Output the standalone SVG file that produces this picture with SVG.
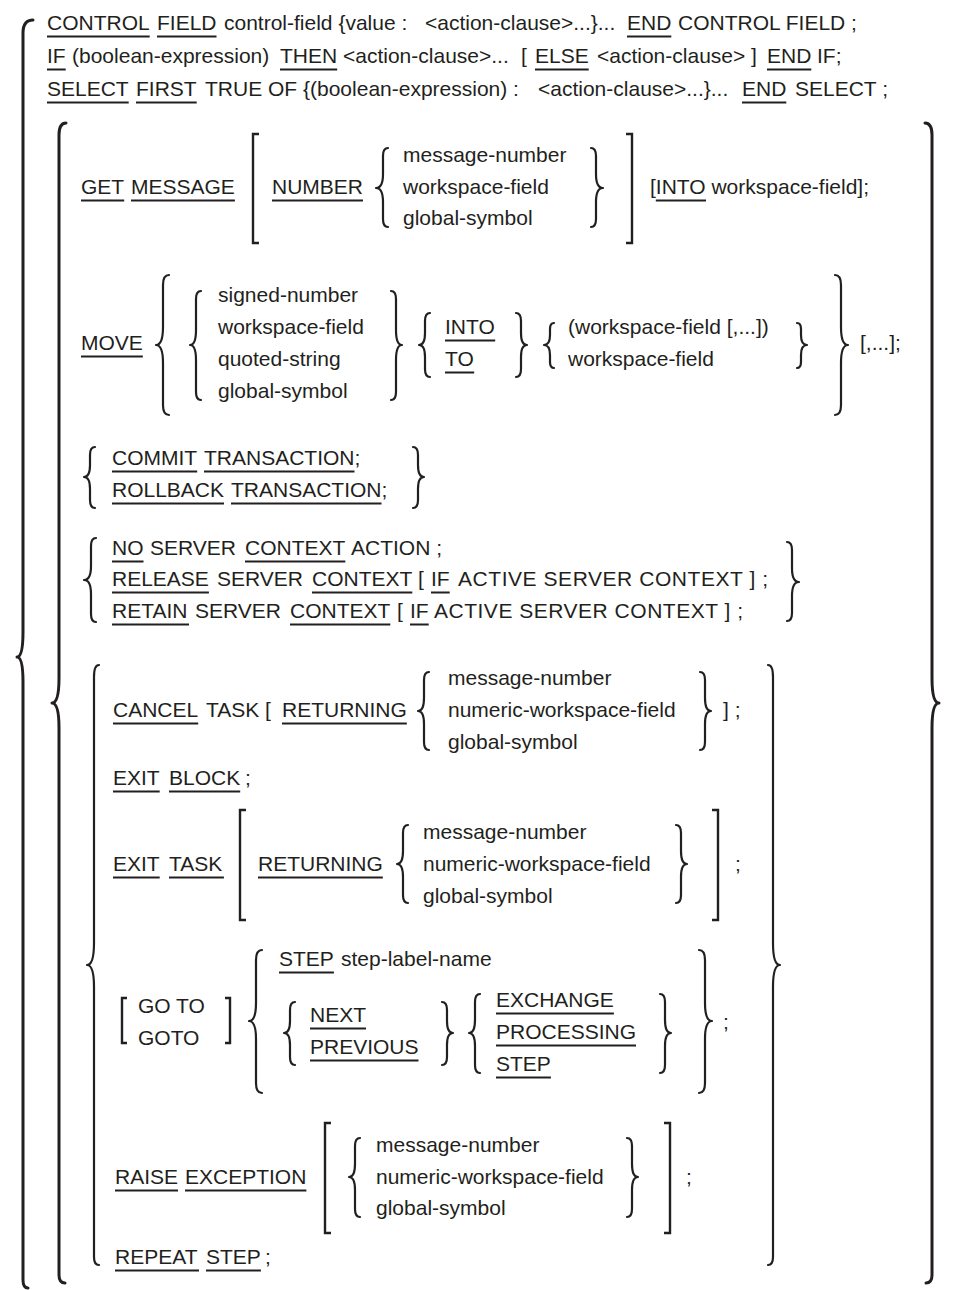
<svg xmlns="http://www.w3.org/2000/svg" width="964" height="1290" viewBox="0 0 964 1290">
<style>
.t{font-family:"Liberation Sans",Arial,Helvetica,sans-serif;font-size:21px;fill:#231f20}
.u{fill:none;stroke:#231f20;stroke-width:2}
.b{fill:none;stroke:#231f20;stroke-width:2.2;stroke-linecap:round;stroke-linejoin:round}
.bb{fill:none;stroke:#231f20;stroke-width:3;stroke-linecap:round;stroke-linejoin:round}
.k{fill:none;stroke:#231f20;stroke-width:2.4;stroke-linejoin:miter}
</style>
<rect width="964" height="1290" fill="#ffffff"/>

<g id="outer-braces">
<path class="bb" d="M33,20 Q23,20 23,33 L23,632 Q23,657 17,657 Q23,657 23,682 L23,1280 Q23,1288 28,1288"/>
<path class="bb" d="M66,123 Q59,123 59,135 L59,678 Q59,703 52,703 Q59,703 59,728 L59,1275 Q59,1283 65,1283"/>
<path class="bb" d="M925,123 Q932,123 932,135 L932,678 Q932,703 939,703 Q932,703 932,728 L932,1275 Q932,1283 926,1283"/>
</g>

<g id="header">
<text class="t"><tspan x="47" y="30">CONTROL</tspan><tspan x="157" y="30">FIELD</tspan><tspan x="224" y="30">control-field {value :</tspan><tspan x="425" y="30">&lt;action-clause&gt;...}...</tspan><tspan x="627" y="30">END</tspan><tspan x="678" y="30">CONTROL FIELD ;</tspan></text>
<text class="t"><tspan x="47" y="63">IF</tspan><tspan x="72" y="63">(boolean-expression)</tspan><tspan x="280" y="63">THEN</tspan><tspan x="343" y="63">&lt;action-clause&gt;...</tspan><tspan x="521" y="63">[</tspan><tspan x="535" y="63">ELSE</tspan><tspan x="597" y="63">&lt;action-clause&gt; ]</tspan><tspan x="767" y="63">END</tspan><tspan x="817" y="63">IF;</tspan></text>
<text class="t"><tspan x="47" y="96">SELECT</tspan><tspan x="136" y="96">FIRST</tspan><tspan x="205" y="96">TRUE OF {(boolean-expression) :</tspan><tspan x="538" y="96">&lt;action-clause&gt;...}...</tspan><tspan x="742" y="96">END</tspan><tspan x="795" y="96">SELECT ;</tspan></text>
<path class="u" d="M47,36.5H149.7M157,36.5H216.5M627,36.5H671.3M47,69.5H65.7M280,69.5H337.2M535,69.5H588.7M767,69.5H811.3M47,102.5H128.7M136,102.5H196.7M742,102.5H786.3"/>
</g>

<g id="get-message">
<text class="t"><tspan x="81" y="194">GET</tspan><tspan x="131" y="194">MESSAGE</tspan><tspan x="272" y="194">NUMBER</tspan><tspan x="650" y="194">[INTO workspace-field];</tspan></text>
<text class="t"><tspan x="403" y="162">message-number</tspan><tspan x="403" y="194">workspace-field</tspan><tspan x="403" y="225">global-symbol</tspan></text>
<path class="u" d="M81,200.5H124.2M131,200.5H234.9M272,200.5H363M655.8,200.5H706"/>
<path class="k" d="M259,134 L253,134 L253,243 L259,243"/>
<path class="k" d="M626,134 L632,134 L632,243 L626,243"/>
<path class="b" d="M388,148 Q383,148 383,156 L383,174 Q383,188 376,188 Q383,188 383,202 L383,219 Q383,227 388,227"/>
<path class="b" d="M591,148 Q596,148 596,156 L596,174 Q596,188 603,188 Q596,188 596,202 L596,219 Q596,227 591,227"/>
</g>

<g id="move">
<text class="t"><tspan x="81" y="350">MOVE</tspan><tspan x="860" y="350">[,...];</tspan></text>
<text class="t"><tspan x="218" y="302">signed-number</tspan><tspan x="218" y="334">workspace-field</tspan><tspan x="218" y="366">quoted-string</tspan><tspan x="218" y="398">global-symbol</tspan></text>
<text class="t"><tspan x="445" y="334">INTO</tspan><tspan x="445" y="366">TO</tspan></text>
<text class="t"><tspan x="568" y="334">(workspace-field [,...])</tspan><tspan x="568" y="366">workspace-field</tspan></text>
<path class="u" d="M81,356.5H142.8M445,340.5H495.2M445,372.5H474.2"/>
<path class="b" d="M169,275 Q163,275 163,285 L163,327 Q163,345 156,345 Q163,345 163,363 L163,405 Q163,415 169,415"/>
<path class="b" d="M201,291 Q196,291 196,299 L196,330 Q196,345 190,345 Q196,345 196,360 L196,392 Q196,400 201,400"/>
<path class="b" d="M391,291 Q396,291 396,299 L396,330 Q396,345 402,345 Q396,345 396,360 L396,392 Q396,400 391,400"/>
<path class="b" d="M430,313 Q425,313 425,321 L425,333 Q425,345 419,345 Q425,345 425,357 L425,369 Q425,377 430,377"/>
<path class="b" d="M516,313 Q521,313 521,321 L521,333 Q521,345 527,345 Q521,345 521,357 L521,369 Q521,377 516,377"/>
<path class="b" d="M554,323 Q550,323 550,329 L550,335 Q550,345 544,345 Q550,345 550,355 L550,362 Q550,368 554,368"/>
<path class="b" d="M797,323 Q801,323 801,329 L801,335 Q801,345 807,345 Q801,345 801,355 L801,362 Q801,368 797,368"/>
<path class="b" d="M835,275 Q841,275 841,285 L841,327 Q841,345 848,345 Q841,345 841,363 L841,405 Q841,415 835,415"/>
</g>

<g id="transaction">
<text class="t"><tspan x="112" y="465">COMMIT</tspan><tspan x="204" y="465">TRANSACTION</tspan><tspan x="354.5" y="465">;</tspan></text>
<text class="t"><tspan x="112" y="497">ROLLBACK</tspan><tspan x="231" y="497">TRANSACTION</tspan><tspan x="381.5" y="497">;</tspan></text>
<path class="u" d="M112,471.5H197.2M204,471.5H354.5M112,503.5H224M231,503.5H381.5"/>
<path class="b" d="M95,447 Q90,447 90,455 L90,465 Q90,477 84,477 Q90,477 90,489 L90,500 Q90,508 95,508"/>
<path class="b" d="M413,447 Q418,447 418,455 L418,465 Q418,477 424,477 Q418,477 418,489 L418,500 Q418,508 413,508"/>
</g>

<g id="server-context">
<text class="t"><tspan x="112" y="555">NO</tspan><tspan x="150" y="555">SERVER</tspan><tspan x="245" y="555">CONTEXT</tspan><tspan x="351" y="555">ACTION ;</tspan></text>
<text class="t"><tspan x="112" y="586">RELEASE</tspan><tspan x="217" y="586">SERVER</tspan><tspan x="312" y="586">CONTEXT</tspan><tspan x="418" y="586">[</tspan><tspan x="431" y="586">IF</tspan></text>
<text class="t" x="458" y="586" textLength="310" lengthAdjust="spacing">ACTIVE SERVER CONTEXT ] ;</text>
<text class="t"><tspan x="112" y="618">RETAIN</tspan><tspan x="195" y="618">SERVER</tspan><tspan x="290" y="618">CONTEXT</tspan><tspan x="397" y="618">[</tspan><tspan x="410" y="618">IF</tspan></text>
<text class="t" x="434" y="618" textLength="309" lengthAdjust="spacing">ACTIVE SERVER CONTEXT ] ;</text>
<path class="u" d="M112,561.5H143.5M245,561.5H345.3M112,592.5H208.9M312,592.5H412.3M431,592.5H449.7M112,624.5H189M290,624.5H390.3M410,624.5H428.7"/>
<path class="b" d="M96,538 Q91,538 91,546 L91,566 Q91,580 84,580 Q91,580 91,594 L91,614 Q91,622 96,622"/>
<path class="b" d="M787,542 Q792,542 792,550 L792,568 Q792,582 799,582 Q792,582 792,596 L792,613 Q792,621 787,621"/>
</g>

<g id="task-actions">
<path class="b" d="M99,665 Q94,665 94,677 L94,943 Q94,965 87,965 Q94,965 94,987 L94,1257 Q94,1265 99,1265"/>
<path class="b" d="M768,665 Q773,665 773,677 L773,943 Q773,965 780,965 Q773,965 773,987 L773,1257 Q773,1265 768,1265"/>

<g id="cancel-task">
<text class="t"><tspan x="113" y="717">CANCEL</tspan><tspan x="206" y="717">TASK [</tspan><tspan x="282" y="717">RETURNING</tspan><tspan x="723" y="717">] ;</tspan></text>
<text class="t"><tspan x="448" y="685">message-number</tspan><tspan x="448" y="717">numeric-workspace-field</tspan><tspan x="448" y="749">global-symbol</tspan></text>
<path class="u" d="M113,723.5H198.2M282,723.5H406.8"/>
<path class="b" d="M429,672 Q424,672 424,680 L424,698 Q424,711 418,711 Q424,711 424,724 L424,742 Q424,750 429,750"/>
<path class="b" d="M700,672 Q705,672 705,680 L705,698 Q705,711 711,711 Q705,711 705,724 L705,742 Q705,750 700,750"/>
</g>

<g id="exit-block">
<text class="t"><tspan x="113" y="785">EXIT</tspan><tspan x="169" y="785">BLOCK</tspan><tspan x="245" y="785">;</tspan></text>
<path class="u" d="M113,791.5H159.7M169,791.5H240.2"/>
</g>

<g id="exit-task">
<text class="t"><tspan x="113" y="871">EXIT</tspan><tspan x="169" y="871">TASK</tspan><tspan x="258" y="871">RETURNING</tspan><tspan x="735" y="871">;</tspan></text>
<text class="t"><tspan x="423" y="839">message-number</tspan><tspan x="423" y="871">numeric-workspace-field</tspan><tspan x="423" y="903">global-symbol</tspan></text>
<path class="u" d="M113,877.5H159.7M169,877.5H223.9M258,877.5H382.8"/>
<path class="k" d="M246,810 L240,810 L240,920 L246,920"/>
<path class="k" d="M712,810 L718,810 L718,920 L712,920"/>
<path class="b" d="M408,825 Q403,825 403,833 L403,851 Q403,864 397,864 Q403,864 403,877 L403,895 Q403,903 408,903"/>
<path class="b" d="M676,825 Q681,825 681,833 L681,851 Q681,864 687,864 Q681,864 681,877 L681,895 Q681,903 676,903"/>
</g>

<g id="goto">
<text class="t"><tspan x="138" y="1013">GO TO</tspan><tspan x="138" y="1045">GOTO</tspan></text>
<text class="t"><tspan x="279" y="966">STEP</tspan><tspan x="341" y="966">step-label-name</tspan></text>
<text class="t"><tspan x="310" y="1022">NEXT</tspan><tspan x="310" y="1054">PREVIOUS</tspan></text>
<text class="t"><tspan x="496" y="1007">EXCHANGE</tspan><tspan x="496" y="1039">PROCESSING</tspan><tspan x="496" y="1071">STEP</tspan><tspan x="723" y="1029">;</tspan></text>
<path class="u" d="M279,972.5H333.9M310,1028.5H366M310,1060.5H418.5M496,1013.5H613.9M496,1045.5H636M496,1077.5H550.9"/>
<path class="k" d="M127,998 L122,998 L122,1043 L127,1043"/>
<path class="k" d="M225,998 L230,998 L230,1043 L225,1043"/>
<path class="b" d="M262,950 Q256,950 256,960 L256,1003 Q256,1021 249,1021 Q256,1021 256,1039 L256,1083 Q256,1093 262,1093"/>
<path class="b" d="M295,1002 Q290,1002 290,1010 L290,1021 Q290,1033 284,1033 Q290,1033 290,1045 L290,1057 Q290,1065 295,1065"/>
<path class="b" d="M442,1002 Q447,1002 447,1010 L447,1021 Q447,1033 453,1033 Q447,1033 447,1045 L447,1057 Q447,1065 442,1065"/>
<path class="b" d="M480,994 Q475,994 475,1002 L475,1020 Q475,1033 469,1033 Q475,1033 475,1046 L475,1065 Q475,1073 480,1073"/>
<path class="b" d="M660,994 Q665,994 665,1002 L665,1020 Q665,1033 671,1033 Q665,1033 665,1046 L665,1065 Q665,1073 660,1073"/>
<path class="b" d="M699,950 Q705,950 705,960 L705,1003 Q705,1021 712,1021 Q705,1021 705,1039 L705,1083 Q705,1093 699,1093"/>
</g>

<g id="raise-exception">
<text class="t"><tspan x="115" y="1184">RAISE</tspan><tspan x="185" y="1184">EXCEPTION</tspan><tspan x="686" y="1184">;</tspan></text>
<text class="t"><tspan x="376" y="1152">message-number</tspan><tspan x="376" y="1184">numeric-workspace-field</tspan><tspan x="376" y="1215">global-symbol</tspan></text>
<path class="u" d="M115,1190.5H178M185,1190.5H306.4"/>
<path class="k" d="M331,1123 L325,1123 L325,1233 L331,1233"/>
<path class="k" d="M664,1123 L670,1123 L670,1233 L664,1233"/>
<path class="b" d="M360,1138 Q355,1138 355,1146 L355,1164 Q355,1177 349,1177 Q355,1177 355,1190 L355,1209 Q355,1217 360,1217"/>
<path class="b" d="M627,1138 Q632,1138 632,1146 L632,1164 Q632,1177 638,1177 Q632,1177 632,1190 L632,1209 Q632,1217 627,1217"/>
</g>

<g id="repeat-step">
<text class="t"><tspan x="115" y="1264">REPEAT</tspan><tspan x="206" y="1264">STEP</tspan><tspan x="265" y="1264">;</tspan></text>
<path class="u" d="M115,1270.5H199M206,1270.5H260.9"/>
</g>
</g>
</svg>
